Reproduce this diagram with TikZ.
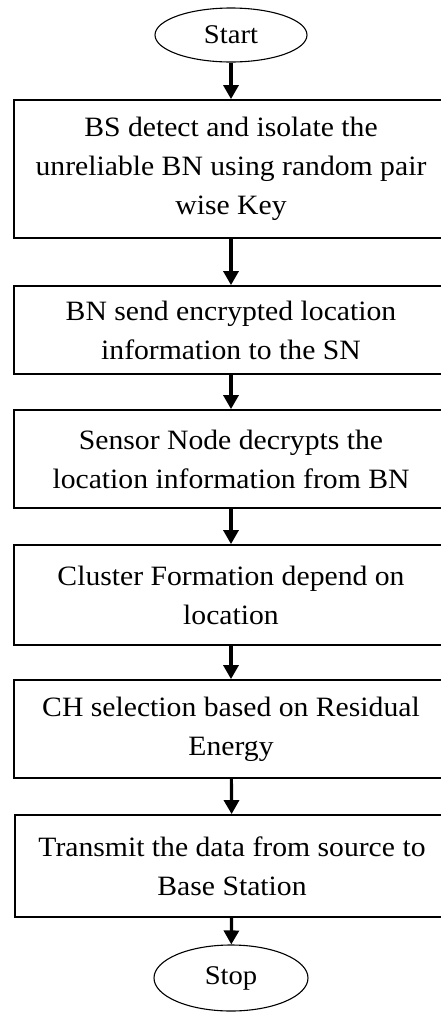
\documentclass[tikz,border=0pt]{standalone}
\usepackage{fontspec}
\setmainfont{Liberation Serif}[FakeStretch=1.06]
\usetikzlibrary{arrows.meta,shapes.geometric}
\begin{document}
\begin{tikzpicture}[x=1pt,y=-1pt,
  stepbox/.style={draw, line width=1.8pt, minimum width=434pt, align=center,
    font=\fontsize{28}{39}\selectfont, inner sep=0pt},
  term/.style={draw, ellipse, line width=1.1pt, inner sep=0pt,
    font=\fontsize{27}{32}\selectfont},
  flow/.style={line width=3.2pt, -{Triangle[width=15pt,length=14pt]}}]
\useasboundingbox (0,0) rectangle (440,1013);
\node[term, minimum width=152pt, minimum height=54pt] (start) at (231,35) {Start};
\node[stepbox, minimum height=138pt] (b1) at (231,169)
  {BS detect and isolate the\\unreliable BN using random pair\\wise Key};
\node[stepbox, minimum height=88pt] (b2) at (231,330)
  {BN send encrypted location\\information to the SN};
\node[stepbox, minimum height=98pt] (b3) at (231,459)
  {Sensor Node decrypts the\\location information from BN};
\node[stepbox, minimum height=100pt] (b4) at (231,595)
  {Cluster Formation depend on\\location};
\node[stepbox, minimum height=98pt] (b5) at (231,729)
  {CH selection based on Residual\\Energy};
\node[stepbox, minimum height=102pt] (b6) at (232,866)
  {Transmit the data from source to\\Base Station};
\node[term, minimum width=154pt, minimum height=66pt] (stop) at (231,978) {Stop};
\draw[flow] (start) -- (b1);
\draw[flow] (b1) -- (b2);
\draw[flow] (b2) -- (b3);
\draw[flow] (b3) -- (b4);
\draw[flow] (b4) -- (b5);
\draw[flow] (b5) -- (b6);
\draw[flow] (b6) -- (stop);
\end{tikzpicture}
\end{document}
